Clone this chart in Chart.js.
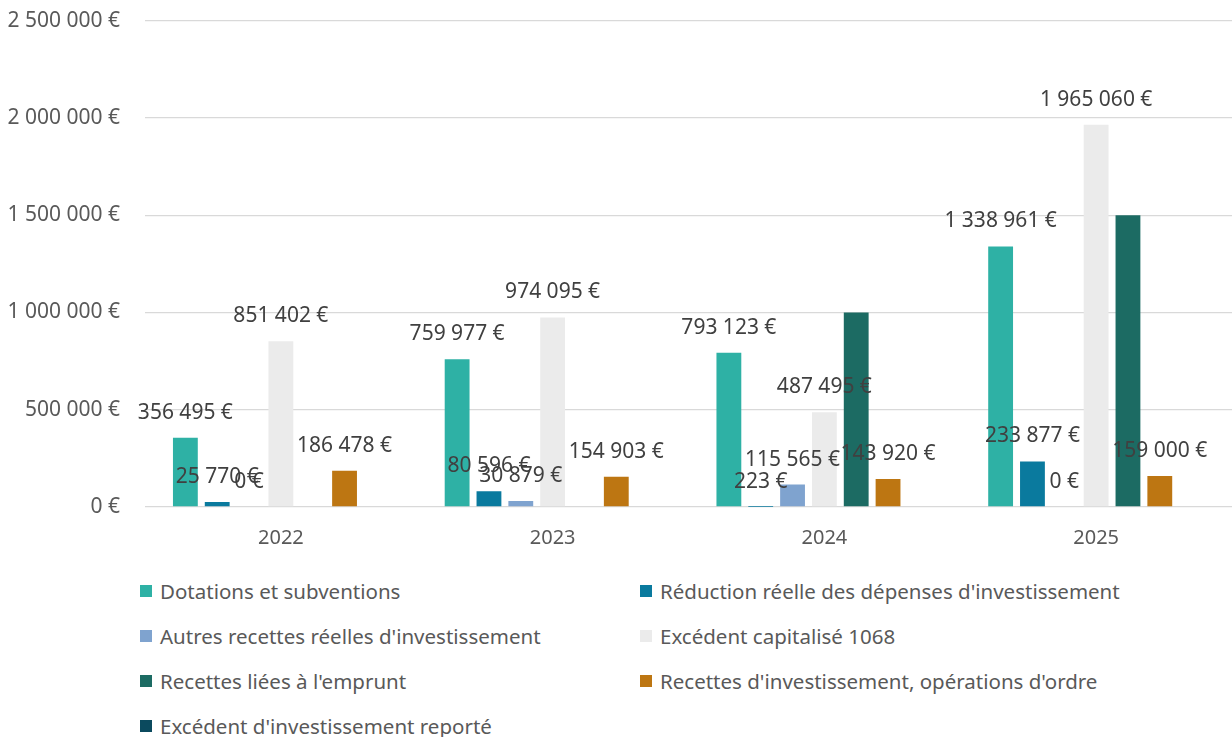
<!DOCTYPE html>
<html>
<head>
<meta charset="utf-8">
<script src="https://cdn.jsdelivr.net/npm/chart.js@4/dist/chart.umd.min.js"></script>
<style>
  html, body { margin: 0; padding: 0; background: #fff; }
  #wrap { position: relative; width: 1232px; height: 737px; overflow: hidden; }
  #chartBox { position: absolute; left: 0; top: -17px; width: 1232px; height: 577px; }
  #legend { position: absolute; left: 140px; top: 568px; width: 1090px;
            display: grid; grid-template-columns: 500px 590px; grid-auto-rows: 45px;
            font-family: "Noto Sans", sans-serif; font-size: 20.5px; color: #595959; }
  #legend .item { display: flex; align-items: center; height: 45px; white-space: nowrap; }
  #legend .box { width: 12px; height: 12px; margin-right: 8px; flex: none; }
</style>
</head>
<body>
<div id="wrap">
  <div id="chartBox"><canvas id="recettesChart"></canvas></div>
  <div id="legend"></div>
</div>
<script>
// Years on the x axis
const years = ['2022', '2023', '2024', '2025'];

// One array per series (values in euros, null = no bar)
const dotations = [356495, 759977, 793123, 1338961];
const reductionDepenses = [25770, 80596, 223, 233877];
const autresRecettes = [0, 30879, 115565, 0];
const excedentCapitalise = [851402, 974095, 487495, 1965060];
const recettesEmprunt = [null, null, 1000000, 1500000];
const operationsOrdre = [186478, 154903, 143920, 159000];
const excedentReporte = [null, null, null, null];

// Y axis ticks
const yTicks = [0, 500000, 1000000, 1500000, 2000000, 2500000];

// Format like 1 338 961 €
function euros(v) {
    return String(v).replace(/\B(?=(\d{3})+(?!\d))/g, ' ') + ' €';
}

// Draws value labels above the bars (emprunt series has none in the original)
const valueLabels = {
    id: 'valueLabels',
    afterDatasetsDraw(chart) {
        const ctx = chart.ctx;
        ctx.save();
        ctx.font = '21px "Noto Sans", sans-serif';
        ctx.fillStyle = '#404040';
        ctx.textAlign = 'center';
        ctx.textBaseline = 'middle';
        chart.data.datasets.forEach((ds, i) => {
            if (ds.noLabels) return;
            chart.getDatasetMeta(i).data.forEach((bar, j) => {
                const v = ds.data[j];
                if (v === null || v === undefined) return;
                ctx.fillText(euros(v), bar.x, bar.y - 25);
            });
        });
        ctx.restore();
    }
};

const ctx = document.getElementById('recettesChart').getContext('2d');
const chart = new Chart(ctx, {
    type: 'bar',
    data: {
        labels: years,
        datasets: [
            { label: 'Dotations et subventions', data: dotations, backgroundColor: '#2EB1A5' },
            { label: "Réduction réelle des dépenses d'investissement", data: reductionDepenses, backgroundColor: '#0A7A9E' },
            { label: "Autres recettes réelles d'investissement", data: autresRecettes, backgroundColor: '#7FA3CF' },
            { label: 'Excédent capitalisé 1068', data: excedentCapitalise, backgroundColor: '#EBEBEB' },
            { label: "Recettes liées à l'emprunt", data: recettesEmprunt, backgroundColor: '#1C6B63', noLabels: true },
            { label: "Recettes d'investissement, opérations d'ordre", data: operationsOrdre, backgroundColor: '#BD7612' },
            { label: "Excédent d'investissement reporté", data: excedentReporte, backgroundColor: '#0B4A5E' }
        ]
    },
    options: {
        responsive: true,
        maintainAspectRatio: false,
        animation: false,
        categoryPercentage: 0.82,
        barPercentage: 0.78,
        layout: { padding: { top: 10, right: 0, left: 0, bottom: 0 } },
        plugins: {
            legend: { display: false },
            tooltip: { enabled: false }
        },
        scales: {
            x: {
                grid: { display: false, drawTicks: false },
                border: { display: false },
                ticks: {
                    color: '#595959',
                    padding: 19,
                    font: { family: 'Noto Sans', size: 20 }
                },
                afterFit(scale) { scale.height = 53; }
            },
            y: {
                min: 0,
                max: 2500000,
                afterBuildTicks(scale) { scale.ticks = yTicks.map(v => ({ value: v })); },
                grid: { color: '#D9D9D9', lineWidth: 1.3, drawTicks: false },
                border: { display: false },
                ticks: {
                    color: '#595959',
                    padding: 25,
                    font: { family: 'Noto Sans', size: 21 },
                    callback: v => euros(v)
                },
                afterFit(scale) { scale.width = 145; }
            }
        }
    },
    plugins: [valueLabels]
});

// Two-column legend under the chart
const legendEl = document.getElementById('legend');
chart.data.datasets.forEach(ds => {
    const item = document.createElement('div');
    item.className = 'item';
    const box = document.createElement('span');
    box.className = 'box';
    box.style.background = ds.backgroundColor;
    item.appendChild(box);
    item.appendChild(document.createTextNode(ds.label));
    legendEl.appendChild(item);
});
</script>
</body>
</html>
